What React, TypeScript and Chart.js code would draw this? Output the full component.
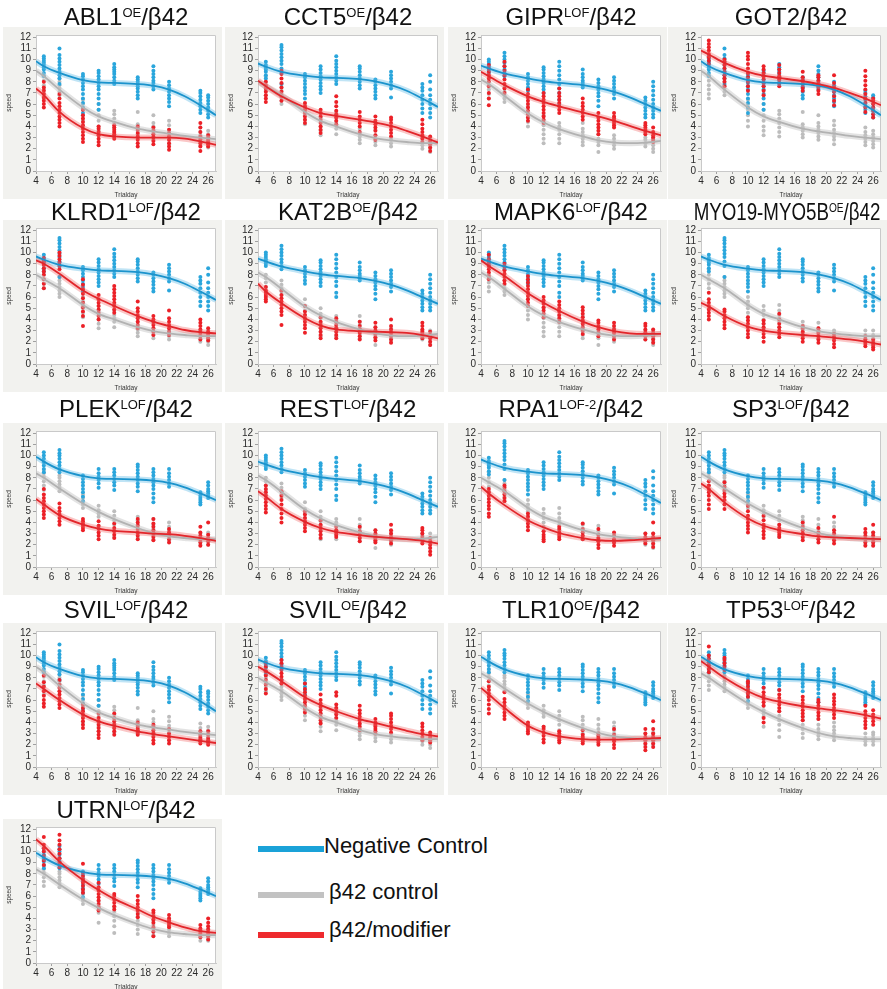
import React, { useEffect, useRef } from 'react';
import { Chart, registerables } from 'chart.js';
Chart.register(...registerables);

// ---------- shared axes ----------
const DAYS = [5, 7, 10, 12, 14, 17, 19, 21, 25, 26];
const FIT_X = [4, 5, 7, 10, 12, 14, 17, 19, 21, 23, 25, 27];
const X_TICKS = [4, 6, 8, 10, 12, 14, 16, 18, 20, 22, 24, 26];
const Y_TICKS = [0, 1, 2, 3, 4, 5, 6, 7, 8, 9, 10, 11, 12];

// ---------- Negative control batches ----------
const NEG_A_FIT = [9.85, 9.4, 8.8, 8.15, 7.95, 7.9, 7.8, 7.65, 7.3, 6.7, 5.9, 5.0];
const NEG_A_PTS = ["8.5 8.8 9.1 9.3 9.5 9.7 9.9 10.1 10.3", "7.8 8.3 8.6 8.9 9.2 9.5 9.8 10.1 10.4 11", "5.2 5.7 6.1 6.5 6.9 7.3 7.6 7.9 8.2 8.5 8.7", "5.5 6 6.5 6.9 7.3 7.6 7.9 8.2 8.5 8.8 9", "7.8 8.1 8.4 8.7 8.9 9.1 9.3 9.6", "6.5 6.8 7.1 7.4 7.6 7.8 8 8.2 8.4", "7.3 7.6 7.9 8.1 8.4 8.7 9 9.4", "5.8 6.2 6.5 6.8 7.1 7.4 7.7 8", "5.2 5.5 5.8 6.1 6.4 6.7 7 7.2", "4.8 5.1 5.4 5.7 6 6.3 6.6 6.8"];
const NEG_B_FIT = [9.65, 9.35, 8.9, 8.55, 8.4, 8.35, 8.25, 8.05, 7.7, 7.2, 6.5, 5.75];
const NEG_B_PTS = ["8.3 8.6 8.9 9.1 9.3 9.5 9.8", "7.8 8.8 9.2 9.6 9.9 10.2 10.5 10.8 11.1 11.3", "6.5 6.9 7.2 7.5 7.8 8.1 8.4 8.7", "7 7.3 7.6 7.9 8.2 8.5 8.8 9.1 9.4", "7.8 8.1 8.4 8.7 9 9.3 9.6 9.9 10.3", "7.4 7.7 8 8.3 8.6 8.9 9.2 9.4", "6.5 6.8 7.1 7.4 7.7 8 8.2", "6.6 7.4 7.7 8 8.3 8.6 8.9", "5.2 5.6 6 6.4 6.8 7.2 7.5 7.8", "4.8 5.2 5.6 6 6.4 6.8 7.3 8 8.6"];
const NEG_C_FIT = [9.45, 9.2, 8.75, 8.3, 8.05, 7.9, 7.7, 7.45, 7.1, 6.6, 6.0, 5.4];
const NEG_C_PTS = ["8.8 9 9.2 9.4 9.6 9.8 10", "8.5 8.8 9.1 9.4 9.7 10 10.3 10.6", "7.2 7.5 7.8 8.1 8.4 8.7", "7 7.3 7.6 7.9 8.2 8.5 8.8 9.1 9.3", "6 6.4 7 7.4 7.8 8.2 8.6 9 9.4 9.8", "7.5 7.7 7.9 8.1 8.4 8.7 9.1", "5.8 6.3 6.7 7 7.3 7.6 7.9 8.2", "6.5 6.9 7.2 7.5 7.8 8.1 8.4", "4.8 5.1 5.4 5.7 6 6.3 6.6", "4.8 5.1 5.4 5.7 6 6.4 6.8 7.2 7.6 8"];
const NEG_D_FIT = [9.9, 9.45, 8.75, 8.15, 7.95, 7.9, 7.85, 7.75, 7.55, 7.15, 6.6, 6.0];
const NEG_D_PTS = ["8.5 8.8 9.1 9.4 9.7 10 10.3", "8.5 8.8 9.1 9.4 9.7 10 10.2 10.5", "5.9 6.3 6.7 7 7.3 7.6 7.9 8.2", "7.1 7.5 7.8 8.1 8.4 8.8", "6.9 7.3 7.6 7.9 8.2 8.5 8.8", "6.8 7.2 7.5 7.8 8.1 8.4 8.7 9 9.2", "5.8 6.2 6.6 7 7.3 7.6 7.9 8.2 8.5 8.8", "7.2 7.5 7.8 8.1 8.4 8.8", "5.6 5.8 6 6.2 6.4 6.7", "6.2 6.4 6.6 6.8 7 7.3 7.6"];

// ---------- β42 control batches ----------
const CTL_A_FIT = [9.0, 8.5, 7.3, 5.7, 4.9, 4.4, 3.8, 3.55, 3.35, 3.15, 3.0, 2.85];
const CTL_A_PTS = ["6.5 6.9 7.3 7.7 8.1 8.6", "6.8 7.1 7.4 7.7 8 8.3", "4 4.5 5 5.5 6 6.4", "3.2 3.6 4 4.5 5 5.5 6", "3.1 3.5 3.9 4.3 4.7 5.1 5.4", "3 3.3 3.6 3.9 4.2 5.3", "2.8 3.1 3.4 3.7 4 4.3 5", "2.4 2.8 3.1 3.4 3.7 4.1 4.5", "2.3 2.6 2.9 3.2 3.5 3.9", "2.1 2.4 2.7 3 3.3 3.6"];
const CTL_B_FIT = [8.0, 7.6, 6.8, 5.3, 4.5, 4.0, 3.3, 2.95, 2.75, 2.6, 2.5, 2.5];
const CTL_B_PTS = ["6.8 7.2 7.6 8 8.5", "6 6.3 6.6 6.9 7.2 7.5 7.8", "4.2 4.6 5 5.3 5.6 6", "3.2 3.6 4 4.4 4.8 5.2", "3.3 3.8 4.1 4.4 4.8 5.3", "2.5 2.8 3.1 3.4 3.8", "2.3 2.6 2.9 3.2 3.7", "2.2 2.5 2.8 3", "2 2.3 2.6 3", "1.7 2 2.3 2.6 3"];
const CTL_C_FIT = [8.2, 7.8, 6.75, 5.15, 4.35, 3.75, 3.1, 2.75, 2.55, 2.5, 2.55, 2.7];
const CTL_C_PTS = ["6.5 6.9 7.3 7.7 8", "6.2 6.5 6.8 7.1 7.5", "4 4.4 4.8 5.2 5.8", "2.5 2.9 3.3 3.7 4.1 4.5 5", "2.5 2.9 3.3 3.7 4 4.3", "2.3 2.6 2.9 3.2 3.5 3.8 4.3", "1.7 2.3 2.6 2.9 3.3", "2 2.3 2.6 2.9 3.2", "2.2 2.5 2.8 3", "1.7 2 2.3 2.6 3"];
const CTL_D_FIT = [8.4, 8.0, 7.05, 5.7, 4.95, 4.3, 3.5, 3.05, 2.75, 2.6, 2.5, 2.5];
const CTL_D_PTS = ["6.9 7.3 7.7 8.1 8.4 8.7", "6.8 7.1 7.4 7.7 8 8.2", "5.3 5.6 5.9 6.2 6.5", "3.6 4.5 4.8 5.1 5.5", "2.7 3.3 3.8 4.2 4.6 5", "2.6 3 3.4 3.8 4.2 4.5", "2.5 2.8 3.1 3.4 3.8 4.3", "2.4 2.7 3 3.3 3.6 4", "2 2.3 2.6 3", "2 2.3 2.6 2.9 3.1"];

// ---------- β42/modifier per panel ----------
const ABL1_FIT = [7.4, 6.8, 5.3, 3.85, 3.3, 3.1, 3.0, 3.0, 3.0, 2.9, 2.65, 2.35];
const ABL1_PTS = ["5.7 6 6.3 6.6 6.9 7.2 7.5 8", "4 4.3 4.6 4.9 5.2 5.5 5.8 6.1 6.5 6.9", "2.6 2.9 3.2 3.5 3.8 4.1 4.4 4.7 5 5.5", "2.3 2.6 2.9 3.2 3.5 3.8 4", "2.9 3.1 3.3 3.5 3.7 3.9 4.1", "2.2 2.5 2.8 3.1 3.4 3.7 4", "2.4 2.7 3 3.3 3.6 3.9", "1.9 2.2 2.5 2.8 3.1 3.4 3.7", "1.8 2.2 2.5 2.8 3.1 3.5 3.9 4.3", "2.2 2.4 2.6 2.8 3 3.2"];
const CCT5_FIT = [8.1, 7.6, 6.7, 5.7, 5.2, 4.95, 4.6, 4.35, 4.05, 3.6, 3.1, 2.55];
const CCT5_PTS = ["6.2 6.5 6.8 7.1 7.4 7.7 8", "6.3 6.7 7.1 7.5 7.9 8.3 8.7 9", "4.3 4.6 4.9 5.2 5.5 5.8 6.1", "3.4 3.7 4 4.3 4.6 4.9 5.2 5.5", "4.2 4.5 4.8 5.1 5.4 5.8 6.2 6.7", "3.5 4 4.3 4.6 4.9 5.3", "2.8 3.2 3.6 3.9 4.2 4.5 4.9", "3.1 3.4 3.7 4 4.3 4.6 4.8", "2.6 2.9 3.2 3.5 3.8 4.2 4.6", "1.8 2.1 2.4 2.7 3.1"];
const GIPR_FIT = [8.9, 8.5, 7.7, 6.7, 6.2, 5.8, 5.25, 4.9, 4.5, 4.05, 3.6, 3.2];
const GIPR_PTS = ["5.9 6.5 7 7.6 8 8.3 8.6 8.9 9.2 9.5", "7 7.4 7.8 8.2 8.6 9 9.4 9.8", "4.5 4.8 5.1 5.4 5.7 6 6.3 6.6 6.9 7.3", "4.3 4.6 4.9 5.2 5.5 5.8 6.1 6.4 6.7 7", "5.2 5.5 5.8 6.1 6.4 6.7 7 7.4", "4.6 4.9 5.2 5.5 5.8 6.1 6.5", "3.3 3.6 3.9 4.2 4.5 4.8 5.2", "3.9 4.1 4.3 4.5 4.7 4.9 5.2", "3.3 3.5 3.7 3.9 4.1 4.3", "2.6 2.8 3 3.2 3.5 3.9"];
const GOT2_FIT = [10.8, 10.45, 9.7, 8.9, 8.55, 8.35, 8.05, 7.8, 7.45, 7.0, 6.5, 5.9];
const GOT2_PTS = ["9.6 9.9 10.2 10.5 10.8 11.1 11.4 11.7", "7.6 8 8.3 8.6 8.9 9.2 9.5 9.8 10", "7.2 7.6 8 8.4 8.8 9.2 9.6 10 10.3 10.6", "6.8 7.2 7.6 7.9 8.2 8.5 8.8 9.1 9.4", "7.6 7.9 8.2 8.5 8.8 9.1 9.5", "7.2 7.5 7.8 8.1 8.4 8.9", "6.9 7.2 7.5 7.8 8.1 8.4 8.6", "5.9 6.3 6.7 7.1 7.5 7.9 8.6", "5.3 5.7 6.1 6.5 6.9 7.3 7.7 8.1 8.5 9", "4.8 5.1 5.4 5.7 6 6.3 6.5"];
const KLRD1_FIT = [9.3, 9.0, 8.1, 6.6, 5.85, 5.2, 4.3, 3.8, 3.4, 3.05, 2.85, 2.75];
const KLRD1_PTS = ["6.8 7.2 7.6 8 8.3 8.6 8.9 9.2 9.5", "8.5 8.8 9.1 9.4 9.7 10", "3.4 4.3 4.7 5.1 5.5 5.9 6.3 6.7 7.1 7.6", "4 4.3 4.6 4.9 5.2 5.5 5.8 6.2", "4.6 4.9 5.2 5.5 5.8 6.1 6.4 6.7 7", "3.2 3.5 3.8 4.1 4.4 4.7 5 5.6", "2.6 2.9 3.2 3.5 3.8 4 4.3", "2.6 2.9 3.2 3.5 3.8 4.1 4.8", "2.2 2.5 2.8 3.1 3.4 3.7 4", "2.1 2.3 2.5 2.7 2.9 3.2"];
const KAT2B_FIT = [7.2, 6.5, 5.45, 4.1, 3.45, 3.1, 2.95, 2.9, 2.85, 2.8, 2.6, 2.3];
const KAT2B_PTS = ["5.6 5.8 6 6.2 6.4 6.6 6.9", "3.5 4.4 4.7 5 5.3 5.6 5.9 6.2 6.6", "2.8 3.2 3.5 3.8 4.1 4.4 4.7 5.2", "2.3 2.6 2.9 3.2 3.5 3.8 4.2", "2.3 2.6 2.9 3.2 3.5 3.8 4.1", "2.2 2.5 2.8 3.1 3.4 3.8", "2.1 2.4 2.7 3 3.3 3.7", "1.9 2.2 2.5 2.8 3.1 3.4 4", "2.3 2.5 2.7 2.9 3.1 3.4 3.7", "1.7 2 2.3 2.6 2.9"];
const MAPK6_FIT = [9.3, 8.8, 7.9, 6.35, 5.5, 4.75, 3.8, 3.3, 2.95, 2.75, 2.7, 2.7];
const MAPK6_PTS = ["7.6 7.9 8.2 8.5 8.8 9.1 9.4 9.8", "7.2 7.5 7.8 8.1 8.4 8.7 9", "5.2 5.5 5.8 6.1 6.4 6.7 7 7.3 7.6 7.9", "4.2 4.5 4.8 5.1 5.4 5.7 6", "3.8 4.1 4.4 4.7 5 5.3 5.6", "2.7 3 3.3 3.6 3.9 4.2 4.5 4.8 5.1", "2.5 2.8 3.1 3.4 3.7 3.9", "2.2 2.5 2.8 3.1 3.4 3.7", "2.2 2.5 2.8 3.1 3.4 3.6", "1.9 2.2 2.5 2.8 3.1"];
const MYO19_FIT = [5.5, 5.15, 4.3, 3.35, 3.0, 2.8, 2.6, 2.5, 2.35, 2.2, 2.0, 1.75];
const MYO19_PTS = ["4 4.3 4.6 4.9 5.2 5.5 5.8 6.4", "3.2 3.5 3.8 4.1 4.4 4.7 4.9", "2.4 2.7 3 3.3 3.6 3.9 4.2", "2 2.4 2.7 3 3.3 3.6 3.9", "2.4 2.7 3 3.3 3.6 4 4.5", "2 2.3 2.6 2.9 3.2 3.4", "1.9 2.2 2.5 2.8 3 3.2", "1.5 1.8 2.1 2.4 2.7", "1.6 1.8 2 2.2 2.5", "1.3 1.5 1.7 1.9 2.2"];
const PLEK_FIT = [6.1, 5.6, 4.65, 3.8, 3.45, 3.25, 3.1, 3.0, 2.95, 2.8, 2.6, 2.35];
const PLEK_PTS = ["4.4 4.7 5 5.3 5.6 5.9 6.2 6.5 7", "3.8 4.1 4.4 4.7 5 5.3 5.7", "3.3 3.5 3.7 3.9 4.1 4.3", "2.5 2.8 3.1 3.4 3.7 4.1", "2.6 2.9 3.2 3.5 3.9", "2.5 2.8 3.1 3.4 3.7 4 4.3", "2.4 2.7 3 3.3 3.6 3.9 4.3", "2.2 2.5 2.8 3.1 3.4", "1.9 2.2 2.5 2.8 3.1 3.6", "2 2.3 2.6 2.9 4"];
const REST_FIT = [6.8, 6.3, 5.2, 4.05, 3.5, 3.15, 2.85, 2.7, 2.6, 2.5, 2.35, 2.1];
const REST_PTS = ["4.9 5.2 5.5 5.8 6.1 6.4 6.7 7 7.3", "4 4.4 4.8 5.2 5.6 6 6.4 6.8", "3.2 3.5 3.8 4.1 4.4 4.7 5", "2.6 2.9 3.2 3.5 3.8 4.2", "2.7 2.9 3.1 3.3 3.6", "2.3 2.6 2.9 3.2 3.6", "2.2 2.4 2.6 2.8 3 3.3", "2.1 2.4 2.7 3 3.3 3.8", "2.1 2.4 2.7 3 3.3 3.5", "1.1 1.4 1.7 2 2.3 2.6"];
const RPA1_FIT = [7.2, 6.6, 5.55, 4.2, 3.55, 3.05, 2.6, 2.4, 2.35, 2.4, 2.5, 2.6];
const RPA1_PTS = ["4.5 4.8 5.2 5.5 5.8 6.1 6.4 6.7 7", "5.9 6.2 6.5 6.8 7.1 7.3", "3.3 3.6 3.9 4.2 4.5 4.8", "2.3 2.5 2.7 2.9 3.2", "2.5 2.7 2.9 3.1 3.4 3.6", "2.5 2.8 3.1 3.4 3.9", "1.7 2 2.3 2.6 2.9 3.4", "1.9 2.2 2.5 2.8 3.1", "2.1 2.3 2.5 2.7 3", "1.8 2.1 2.4 2.7 3 4"];
const SP3_FIT = [7.5, 7.0, 5.8, 4.35, 3.7, 3.3, 2.95, 2.75, 2.65, 2.6, 2.55, 2.5];
const SP3_PTS = ["5.2 5.6 6 6.4 6.7 7 7.3 7.7", "5.2 5.6 6 6.3 6.6 6.9 7.2 7.6", "3.1 3.4 3.7 4 4.3 4.6 5 5.5", "2.6 2.9 3.2 3.5 3.8 4.2 4.6", "2.7 2.9 3.1 3.3 3.5 3.8", "2.4 2.7 3 3.3 3.6 4", "2.2 2.5 2.8 3.1 3.5", "2.1 2.4 2.7 3 3.3 4.5", "1.9 2.2 2.5 2.8 3.1 3.4", "1.9 2.2 2.5 2.8 3.1 3.8"];
const SVIL_LOF_FIT = [7.5, 7.0, 6.0, 4.7, 4.1, 3.7, 3.2, 2.95, 2.75, 2.55, 2.35, 2.15];
const SVIL_LOF_PTS = ["5.4 5.7 6 6.4 6.8 7.2 7.6 8.2", "5.3 5.6 5.9 6.2 6.5 6.8 7.1 7.4 7.8", "3.5 3.8 4.1 4.4 4.7 5 5.3 5.6", "2.6 2.9 3.2 3.5 3.8 4.1 4.4 4.8", "2.9 3.2 3.5 3.8 4.1 4.4 4.8", "2.9 3.1 3.3 3.5 3.7 4", "2.1 2.4 2.7 3 3.3 3.6 3.8", "2.1 2.4 2.7 3 3.4", "2.1 2.3 2.5 2.7 2.9 3.2", "2 2.2 2.4 2.6 2.9 3.2"];
const SVIL_OE_FIT = [9.0, 8.6, 7.7, 6.25, 5.55, 5.0, 4.3, 3.95, 3.6, 3.25, 2.95, 2.75];
const SVIL_OE_PTS = ["6.6 7 7.4 7.8 8.2 8.6 9 9.3", "7.5 7.8 8.1 8.4 8.7 9 9.3 9.6", "4.9 5.2 5.5 5.8 6.1 6.4 6.7 7 7.5", "3.9 4.2 4.5 4.8 5.1 5.4 5.7 6 6.5", "4.4 4.7 5 5.3 5.6 6.4 6.7", "3.3 3.6 3.9 4.2 4.5 4.8 5.1 5.5", "3 3.2 3.4 3.6 3.8 4 4.3", "3.1 3.4 3.7 4 4.3 4.6 4.8", "2.4 2.7 3 3.3 3.6 3.9", "2.2 2.4 2.6 2.8 3.1"];
const TLR10_FIT = [7.1, 6.5, 5.3, 3.7, 3.1, 2.75, 2.5, 2.45, 2.45, 2.5, 2.55, 2.6];
const TLR10_PTS = ["4.8 5.2 5.6 6 6.3 6.6 6.9 7.2 7.7", "4.3 4.6 4.9 5.2 5.5 5.8 6.1 6.7", "3 3.2 3.4 3.6 3.8 4", "2.2 2.5 2.8 3.1 3.4 3.6", "2.2 2.4 2.6 2.8 3 3.2", "2.1 2.3 2.5 2.7 2.9 3.3", "2 2.2 2.4 2.6 2.8 3", "1.7 2 2.3 2.6 2.9 3.4", "1.5 1.8 2.1 2.4 2.7 3 3.4", "1.8 2.1 2.4 2.7 3 3.4 4.1"];
const TP53_FIT = [9.5, 9.0, 8.0, 6.8, 6.2, 5.85, 5.45, 5.25, 5.1, 4.9, 4.65, 4.35];
const TP53_PTS = ["8.5 8.8 9.1 9.4 9.7 10 10.8", "8.7 9 9.3 9.6 9.8", "6.3 6.6 6.9 7.2 7.5 7.7", "4 4.4 5.5 5.8 6.1 6.4 6.7 7.1", "5 5.3 5.6 5.9 6.2 6.5 6.9", "4.2 4.5 4.8 5.1 5.4 5.7 6 6.3", "4.3 4.6 4.9 5.2 5.5 5.8 6", "4.4 4.7 5 5.3 5.6 5.9 6.2 6.5", "3.5 3.8 4.1 4.4 4.7 5 5.5", "3.8 4.1 4.4 4.7 5.1"];
const UTRN_FIT = [11.1, 10.5, 9.1, 7.45, 6.55, 5.75, 4.8, 4.15, 3.65, 3.2, 2.85, 2.7];
const UTRN_PTS = ["8.8 9.2 9.6 10 10.3 10.6 11.3", "8.6 9 9.4 9.8 10.2 10.6 11 11.5", "6.3 6.6 6.9 7.2 7.5 7.8 8.1 8.9", "4.7 5 5.3 5.6 5.9 6.2 6.5 6.8 7.2", "4.8 5.1 5.4 5.7 6 6.2", "4.1 4.4 4.7 5 5.3 5.6 6", "2.4 2.8 3.2 3.6 3.9 4.2 4.5 4.7", "3.2 3.4 3.6 3.8 4 4.3", "2.3 2.5 2.7 2.9 3.1 3.4", "2.1 2.4 2.7 3 3.3 3.6 4"];

// ---------- layout ----------
const COL_X = [36, 258, 481, 701];
const ROW_TOP = [35, 228, 431, 631, 827];
const TITLE_BASE = [25, 220, 417, 618, 818];

const NEG = { A: [NEG_A_FIT, NEG_A_PTS], B: [NEG_B_FIT, NEG_B_PTS], C: [NEG_C_FIT, NEG_C_PTS], D: [NEG_D_FIT, NEG_D_PTS] };
const CTL = { A: [CTL_A_FIT, CTL_A_PTS], B: [CTL_B_FIT, CTL_B_PTS], C: [CTL_C_FIT, CTL_C_PTS], D: [CTL_D_FIT, CTL_D_PTS] };

const PANELS = [
  { gene: 'ABL1', sup: 'OE', batch: 'A', fit: ABL1_FIT, pts: ABL1_PTS },
  { gene: 'CCT5', sup: 'OE', batch: 'B', fit: CCT5_FIT, pts: CCT5_PTS },
  { gene: 'GIPR', sup: 'LOF', batch: 'C', fit: GIPR_FIT, pts: GIPR_PTS },
  { gene: 'GOT2', sup: '', batch: 'A', fit: GOT2_FIT, pts: GOT2_PTS },
  { gene: 'KLRD1', sup: 'LOF', batch: 'B', fit: KLRD1_FIT, pts: KLRD1_PTS },
  { gene: 'KAT2B', sup: 'OE', batch: 'C', fit: KAT2B_FIT, pts: KAT2B_PTS },
  { gene: 'MAPK6', sup: 'LOF', batch: 'C', fit: MAPK6_FIT, pts: MAPK6_PTS },
  { gene: 'MYO19-MYO5B', sup: 'OE', batch: 'B', fit: MYO19_FIT, pts: MYO19_PTS, squeeze: 0.78, shift: -4 },
  { gene: 'PLEK', sup: 'LOF', batch: 'D', fit: PLEK_FIT, pts: PLEK_PTS },
  { gene: 'REST', sup: 'LOF', batch: 'C', fit: REST_FIT, pts: REST_PTS },
  { gene: 'RPA1', sup: 'LOF-2', batch: 'B', fit: RPA1_FIT, pts: RPA1_PTS },
  { gene: 'SP3', sup: 'LOF', batch: 'D', fit: SP3_FIT, pts: SP3_PTS },
  { gene: 'SVIL', sup: 'LOF', batch: 'A', fit: SVIL_LOF_FIT, pts: SVIL_LOF_PTS },
  { gene: 'SVIL', sup: 'OE', batch: 'B', fit: SVIL_OE_FIT, pts: SVIL_OE_PTS },
  { gene: 'TLR10', sup: 'OE', batch: 'D', fit: TLR10_FIT, pts: TLR10_PTS },
  { gene: 'TP53', sup: 'LOF', batch: 'D', fit: TP53_FIT, pts: TP53_PTS },
  { gene: 'UTRN', sup: 'LOF', batch: 'D', fit: UTRN_FIT, pts: UTRN_PTS },
];

const FONT = '"Liberation Sans", Arial, Helvetica, sans-serif';
const BLUE_PT = '#2aa6dc', BLUE_LN = '#1b93cc', BLUE_BAND = 'rgba(90,185,230,0.38)';
const GRAY_PT = '#bdbdbd', GRAY_LN = '#b2b2b2', GRAY_BAND = 'rgba(200,200,200,0.5)';
const RED_PT = '#ec2027', RED_LN = '#e2262b', RED_BAND = 'rgba(240,95,95,0.35)';
const PANEL_BG = '#f2f2ef';

const PAD_TOP = 6;
const Y_AXIS_W = 33;
const X_AXIS_H = 28;
const PLOT_W = 180;
const PLOT_H = 138;
const CANVAS_W = Y_AXIS_W + PLOT_W + 6;
const CANVAS_H = PAD_TOP + PLOT_H + X_AXIS_H;

const toPts = (strips: string[]) =>
  DAYS.flatMap((d, i) => strips[i].split(' ').map((v) => ({ x: d, y: Number(v) })));
const toFit = (fit: number[]) => FIT_X.map((x, i) => ({ x, y: fit[i] }));

const panelPlugin = {
  id: 'panelBg',
  beforeDraw(c: any) {
    const { ctx, chartArea: a, width, height } = c;
    ctx.save();
    ctx.fillStyle = PANEL_BG;
    ctx.fillRect(0, 0, width, height);
    ctx.fillStyle = '#ffffff';
    ctx.fillRect(a.left, a.top, a.right - a.left, a.bottom - a.top);
    ctx.restore();
  },
  beforeDatasetsDraw(c: any) {
    const { ctx, chartArea: a } = c;
    ctx.save();
    ctx.strokeStyle = '#c9c9c9';
    ctx.lineWidth = 1;
    ctx.beginPath();
    ctx.moveTo(a.left, a.top + 0.5);
    ctx.lineTo(a.right - 0.5, a.top + 0.5);
    ctx.lineTo(a.right - 0.5, a.bottom);
    ctx.stroke();
    ctx.restore();
  },
};

function curveSets(fit: number[], ln: string, band: string, o: number) {
  return [
    { type: 'line', data: toFit(fit), showLine: true, borderColor: ln, borderWidth: 1.8, pointRadius: 0, cubicInterpolationMode: 'monotone', fill: false, order: o },
    { type: 'line', data: toFit(fit), showLine: true, borderColor: band, borderWidth: 6, pointRadius: 0, cubicInterpolationMode: 'monotone', fill: false, order: o + 3 },
  ];
}

function Panel({ p, idx }: { p: any; idx: number }) {
  const ref = useRef<HTMLCanvasElement>(null);
  const col = idx % 4;
  const row = Math.floor(idx / 4);
  const axisX = COL_X[col];
  const top = ROW_TOP[row];
  useEffect(() => {
    const [negFit, negPts] = (NEG as any)[p.batch];
    const [ctlFit, ctlPts] = (CTL as any)[p.batch];
    const tickFont = { family: FONT, size: 10 };
    const chart = new Chart(ref.current as HTMLCanvasElement, {
      type: 'scatter',
      data: {
        datasets: [
          ...curveSets(p.fit, RED_LN, RED_BAND, 0),
          ...curveSets(negFit, BLUE_LN, BLUE_BAND, 1),
          ...curveSets(ctlFit, GRAY_LN, GRAY_BAND, 2),
          { data: toPts(p.pts), backgroundColor: RED_PT, borderWidth: 0, pointRadius: 2, order: 7 },
          { data: toPts(negPts), backgroundColor: BLUE_PT, borderWidth: 0, pointRadius: 2, order: 8 },
          { data: toPts(ctlPts), backgroundColor: GRAY_PT, borderWidth: 0, pointRadius: 2, order: 9 },
        ] as any,
      },
      options: {
        responsive: false,
        animation: false,
        devicePixelRatio: 1,
        events: [],
        layout: { padding: { top: PAD_TOP, right: 6, left: 0, bottom: 0 } },
        plugins: { legend: { display: false }, tooltip: { enabled: false } },
        scales: {
          x: {
            type: 'linear',
            min: 4,
            max: 27,
            afterFit: (s: any) => { s.height = X_AXIS_H; },
            afterBuildTicks: (s: any) => { s.ticks = X_TICKS.map((v) => ({ value: v })); },
            ticks: { font: tickFont, color: '#2a2a2a', padding: 1, maxRotation: 0, autoSkip: false },
            grid: { drawOnChartArea: false, drawTicks: true, tickLength: 3, color: '#a0a0a0' },
            border: { display: true, color: '#c9c9c9' },
            title: { display: true, text: 'Trialday', font: { family: FONT, size: 6.5 }, color: '#333', padding: { top: 1, bottom: 0 } },
          },
          y: {
            type: 'linear',
            min: 0,
            max: 12.2,
            afterFit: (s: any) => { s.width = Y_AXIS_W; },
            afterBuildTicks: (s: any) => { s.ticks = Y_TICKS.map((v) => ({ value: v })); },
            ticks: { font: tickFont, color: '#2a2a2a', padding: 2, autoSkip: false },
            grid: { drawOnChartArea: false, drawTicks: true, tickLength: 3, color: '#a0a0a0' },
            border: { display: true, color: '#c9c9c9' },
            title: { display: true, text: 'speed', font: { family: FONT, size: 6.5 }, color: '#333', padding: { top: 2, bottom: 0 } },
          },
        },
      } as any,
      plugins: [panelPlugin],
    });
    return () => chart.destroy();
  }, []);
  const titleTop = TITLE_BASE[row] - 20;
  return (
    <>
      <canvas
        ref={ref}
        width={CANVAS_W}
        height={CANVAS_H}
        style={{ position: 'absolute', left: axisX - Y_AXIS_W, top: top - 2 - PAD_TOP, width: CANVAS_W, height: CANVAS_H }}
      />
      <div
        style={{
          position: 'absolute',
          left: axisX + PLOT_W / 2 + (p.shift || 0),
          top: titleTop,
          transform: `translateX(-50%) scaleX(${p.squeeze || 1})`,
          font: `24px ${FONT}`,
          lineHeight: '24px',
          whiteSpace: 'nowrap',
          color: '#111',
        }}
      >
        {p.gene}
        {p.sup ? <span style={{ fontSize: 13, position: 'relative', top: -8 }}>{p.sup}</span> : null}
        /β42
      </div>
    </>
  );
}

const LEGEND_LABELS = ['Negative Control', 'β42 control', 'β42/modifier'];
const LEGEND_COLORS = ['#1aa2d8', '#c2c2c2', '#ee2a2e'];
const LEGEND_LINE_Y = [849, 895, 935];
const LEGEND_TEXT_X = [324, 329, 329];
const LEGEND_BASE = [854, 900, 938];

export default function App() {
  return (
    <div style={{ position: 'absolute', left: 0, top: 0, width: 887, height: 989, background: '#fff', overflow: 'hidden' }}>
      {PANELS.map((p, i) => (
        <Panel key={i} p={p} idx={i} />
      ))}
      {LEGEND_LABELS.map((t, i) => (
        <React.Fragment key={t}>
          <div style={{ position: 'absolute', left: 258, top: LEGEND_LINE_Y[i] - 3, width: 66, height: 6, background: LEGEND_COLORS[i] }} />
          <div style={{ position: 'absolute', left: LEGEND_TEXT_X[i], top: LEGEND_BASE[i] - 19, font: `22px ${FONT}`, lineHeight: '22px', whiteSpace: 'nowrap', color: '#111' }}>{t}</div>
        </React.Fragment>
      ))}
    </div>
  );
}
